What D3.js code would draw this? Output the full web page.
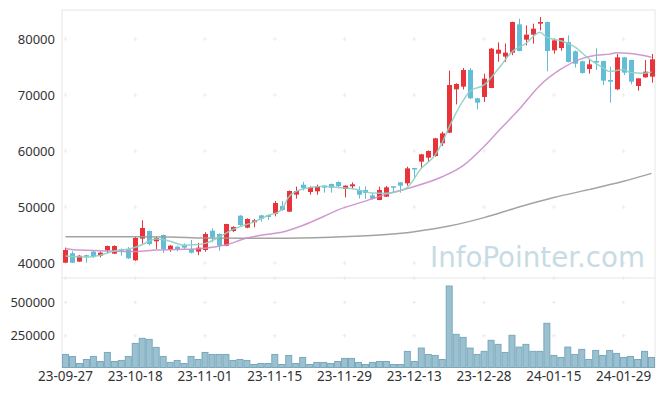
<!DOCTYPE html>
<html>
<head>
<meta charset="utf-8">
<script src="https://cdnjs.cloudflare.com/ajax/libs/d3/7.8.5/d3.min.js"></script>
<style>
  body { margin: 0; background: #fff; }
  svg text { font-family: "Noto Sans", sans-serif; }
</style>
</head>
<body>
<svg id="chart" width="665" height="396"></svg>
<script>
// trading days (KRX)
var dates = ["23-09-27","23-10-04","23-10-05","23-10-06","23-10-10","23-10-11","23-10-12","23-10-13","23-10-16","23-10-17",
  "23-10-18","23-10-19","23-10-20","23-10-23","23-10-24","23-10-25","23-10-26","23-10-27","23-10-30","23-10-31",
  "23-11-01","23-11-02","23-11-03","23-11-06","23-11-07","23-11-08","23-11-09","23-11-10","23-11-13","23-11-14",
  "23-11-15","23-11-16","23-11-17","23-11-20","23-11-21","23-11-22","23-11-23","23-11-24","23-11-27","23-11-28",
  "23-11-29","23-11-30","23-12-01","23-12-04","23-12-05","23-12-06","23-12-07","23-12-08","23-12-11","23-12-12",
  "23-12-13","23-12-14","23-12-15","23-12-18","23-12-19","23-12-20","23-12-21","23-12-22","23-12-26","23-12-27",
  "23-12-28","24-01-02","24-01-03","24-01-04","24-01-05","24-01-08","24-01-09","24-01-10","24-01-11","24-01-12",
  "24-01-15","24-01-16","24-01-17","24-01-18","24-01-19","24-01-22","24-01-23","24-01-24","24-01-25","24-01-26",
  "24-01-29","24-01-30","24-01-31","24-02-01","24-02-02"];

var open = [40060,41750,40250,41400,42024,41310,42262,41667,42440,42440,
  40476,44345,45714,43869,45000,42321,42917,43214,42500,42024,
  42321,45774,45179,43095,45714,48452,46310,47262,48500,48571,
  48810,50179,49167,52202,53988,52679,52800,53810,54107,54464,
  53214,53690,53036,53036,52083,51250,51845,53700,54405,54226,
  56960,58095,58810,59106,61370,63274,71012,71488,74464,69405,
  69643,71250,77380,76850,77560,82620,79880,80774,82740,83036,
  77976,78390,79464,77798,76012,74643,76070,76070,72680,71012,
  76726,76250,71607,73155,73274];

var high = [42740,42100,41400,41500,42260,42020,43100,43150,42600,42857,
  44640,47619,45800,44700,45100,43200,43100,43500,44107,43600,
  45500,46190,45300,47000,46550,48550,47980,47860,48600,48650,
  51070,51070,52950,53631,54500,53700,54000,53930,54200,54580,
  53900,54400,53690,53690,52500,53630,53750,53750,54450,57200,
  57000,59500,60100,62350,63450,74345,72100,74820,74820,69500,
  73810,78400,79400,79200,83100,83630,82440,82740,83930,83100,
  80050,80200,80650,77950,76150,76250,78330,76100,75060,77320,
  76800,76300,73000,76250,77320];

var low = [40000,40000,40200,40050,40900,41010,41700,41600,41300,40700,
  40400,43450,43150,42500,41800,42000,42100,42500,41700,41400,
  42000,43690,42200,43000,45500,46600,46200,46370,47380,47700,
  48330,49300,49100,51500,52950,52200,52200,52560,52560,53600,
  51726,53200,51500,51430,51300,51200,51800,52560,52560,53810,
  55120,56900,58100,59000,60890,63200,68330,70990,69300,67440,
  68750,71200,75950,75890,77100,77800,78870,79170,81550,74230,
  77380,77900,75800,74900,73800,73810,74470,71790,68630,70900,
  73570,71900,70770,73100,72200];

var close = [42321,40050,41300,41250,41131,41845,43036,43036,42024,40833,
  44464,46250,43393,44464,42500,43095,42440,42738,41845,42738,
  45179,44583,43095,46964,46429,46786,47857,47619,47900,48214,
  50714,49464,52857,52857,53393,53571,53700,53450,53393,53690,
  53810,54048,52202,52500,51488,53036,53512,53600,53810,56900,
  56720,59405,60000,62260,63155,71786,71964,74464,69405,68630,
  72917,78274,78095,77560,83036,77857,80774,81845,83036,77857,
  79760,80180,75893,75595,73930,75476,75830,72560,72380,76726,
  73988,72380,72976,74167,76369];

var volume = [110000,95000,42000,72000,95000,57000,125000,57000,65000,95000,
  193000,231000,223000,163000,95000,50000,65000,42000,95000,72000,
  125000,110000,110000,110000,65000,72000,65000,34500,42000,42000,
  110000,34500,102500,42000,87400,34500,50000,50000,42000,57000,
  80000,80000,50000,34500,50000,57000,57000,34500,34500,133000,
  57000,158000,110000,102500,72000,623600,261000,238000,158000,110000,
  133000,216000,185600,125000,253500,165000,185600,133000,133000,344000,
  102500,87400,165000,110000,148000,72000,140000,102500,140000,117600,
  87400,95000,72000,133000,87400];

// moving averages: bar index + value
var ma5Idx = [0,3,5,7,9,10,11,13,15,17,19,20,22,24,27,29,31,32,34,37,39,41,44,46,47,49,51,53,54,55,57,58,60,62,64,66,68,69,71,73,75,77,78,80,81,83,84];
var ma5 = [41250,41050,41400,42150,42500,42800,43300,44300,43900,43200,43300,43500,44600,46000,47350,48450,49500,51800,53200,53700,53500,53300,52500,52450,52600,53500,56900,59300,61500,64300,69000,70700,71800,74600,77700,79200,81200,80300,79700,78600,76500,74900,74200,74550,74000,73900,74100];

var ma20Idx = [0,2,5,10,13,16,20,23,26,29,31,34,37,39,43,46,49,54,57,60,62,65,68,71,74,76,78,79,81,84];
var ma20 = [42600,42300,42200,42050,42300,42400,42650,43250,44450,45150,45500,46700,48300,49450,51050,52300,53300,55400,57400,60800,63500,67400,71700,74600,76500,77100,77300,77550,77400,76750];

var ma60Idx = [0,10,15,20,30,38,45,50,55,60,65,70,75,80,84];
var ma60 = [44700,44700,44650,44450,44400,44600,45000,45600,46600,48100,50000,51700,53100,54600,56000];

var priceTicks = [40000, 50000, 60000, 70000, 80000];
var volumeTicks = [250000, 500000];
var dateTicks = [0, 10, 20, 30, 40, 50, 60, 70, 80];

var svg = d3.select("#chart"),
    plotLeft = 62, plotRight = 655,
    plotTop = 10, split = 278, plotBottom = 367.5,
    upColor = "#e8333a", downColor = "#63bdd6";

var x = d3.scaleBand().domain(d3.range(dates.length)).range([plotLeft, plotRight]).padding(0),
    step = x.step(),
    cx = function(i) { return x(i) + step / 2; },
    y = d3.scaleLinear().domain([37321, 85179]).range([split, plotTop]),
    yv = d3.scaleLinear().domain([12000, 684000]).range([plotBottom, split]);

// frame
svg.append("rect").attr("x", plotLeft).attr("y", plotTop).attr("width", plotRight - plotLeft).attr("height", plotBottom - plotTop)
  .attr("fill", "none").attr("stroke", "#e6e6e6");
svg.append("line").attr("x1", plotLeft).attr("x2", plotRight).attr("y1", split).attr("y2", split).attr("stroke", "#e6e6e6");

// grid crosses (very faint)
function cross(px, py) {
  svg.append("path").attr("d", "M" + (px - 2) + "," + py + "h4M" + px + "," + (py - 2) + "v4")
    .attr("stroke", "#ececec").attr("stroke-width", 1);
}
dateTicks.forEach(function(t) {
  priceTicks.forEach(function(p) { cross(cx(t), y(p)); });
  volumeTicks.forEach(function(v) { cross(cx(t), yv(v)); });
  cross(cx(t), split);
});

// watermark
svg.append("text").attr("x", 430).attr("y", 267).attr("textLength", 215).attr("lengthAdjust", "spacingAndGlyphs")
  .style("font-family", "'DejaVu Sans', sans-serif").style("font-size", "29px").attr("fill", "#c8dbe5")
  .text("InfoPointer.com");

// axes
var yAxis = svg.append("g").attr("transform", "translate(" + (plotLeft - 7) + ",0)")
  .call(d3.axisLeft(y).tickValues(priceTicks).tickSize(0).tickPadding(0).tickFormat(d3.format("d")));
var vAxis = svg.append("g").attr("transform", "translate(" + (plotLeft - 7) + ",0)")
  .call(d3.axisLeft(yv).tickValues(volumeTicks).tickSize(0).tickPadding(0).tickFormat(d3.format("d")));
var xAxis = svg.append("g").attr("transform", "translate(0," + plotBottom + ")")
  .call(d3.axisBottom(x).tickValues(dateTicks).tickSize(0).tickPadding(4).tickFormat(function(i) { return dates[i]; }));

[yAxis, vAxis, xAxis].forEach(function(g) {
  g.select(".domain").remove();
  g.selectAll("text").attr("fill", "#333").style("font-size", "13px");
});
xAxis.selectAll("text").style("font-size", "13.5px");

// volume
svg.append("g").selectAll("rect").data(volume).join("rect")
  .attr("x", function(d, i) { return x(i) + 0.5; })
  .attr("y", function(d) { return yv(d); })
  .attr("width", step - 1)
  .attr("height", function(d) { return plotBottom - yv(d); })
  .attr("fill", "#9bc1d1")
  .attr("stroke", "#79a8bc");

// moving averages
function maLine(idx, vals, color) {
  var line = d3.line()
    .x(function(d, k) { return cx(idx[k]); })
    .y(function(d) { return y(d); })
    .curve(d3.curveMonotoneX);
  svg.append("path").datum(vals).attr("d", line)
    .attr("fill", "none").attr("stroke", color).attr("stroke-width", 1.5).attr("stroke-opacity", 0.9);
}

// candles
var candles = svg.append("g").selectAll("g").data(close).join("g")
  .attr("fill", function(d, i) { return d >= open[i] ? upColor : downColor; })
  .attr("stroke", function(d, i) { return d >= open[i] ? upColor : downColor; });

candles.append("line")
  .attr("x1", function(d, i) { return Math.round(cx(i)) + 0.5; })
  .attr("x2", function(d, i) { return Math.round(cx(i)) + 0.5; })
  .attr("y1", function(d, i) { return y(high[i]); })
  .attr("y2", function(d, i) { return y(low[i]); });

candles.append("rect")
  .attr("x", function(d, i) { return Math.round(cx(i)) - 2; })
  .attr("width", 5)
  .attr("y", function(d, i) { return y(Math.max(open[i], d)); })
  .attr("height", function(d, i) { return Math.max(1.5, Math.abs(y(open[i]) - y(d))); })
  .attr("stroke", "none");

maLine(ma60Idx, ma60, "#999999");
maLine(ma20Idx, ma20, "#cc8dcb");
maLine(ma5Idx, ma5, "#8fd0c3");
</script>
</body>
</html>
